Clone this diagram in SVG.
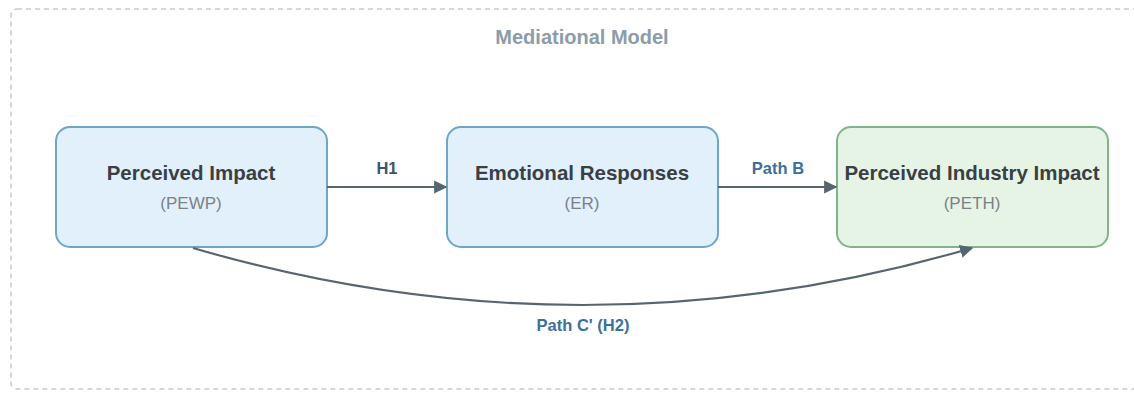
<svg xmlns="http://www.w3.org/2000/svg" width="1134" height="396" viewBox="0 0 1134 396">
<defs>
<style>
.frame{fill:#ffffff;stroke:#c9c9c9;stroke-width:1.5;stroke-dasharray:5 4}
.blue{fill:#e1f0fb;stroke:#6ea6c8;stroke-width:2}
.green{fill:#e6f4e6;stroke:#82b48c;stroke-width:2}
.title{font-family:"Liberation Sans",Arial,sans-serif;font-weight:bold;font-size:20px;fill:#8c9ca8;text-anchor:middle}
.main{font-family:"Liberation Sans",Arial,sans-serif;font-weight:bold;font-size:20.5px;fill:#3a3f44;text-anchor:middle}
.sub{font-family:"Liberation Sans",Arial,sans-serif;font-size:17px;fill:#7b8186;text-anchor:middle}
.lbl{font-family:"Liberation Sans",Arial,sans-serif;font-weight:bold;font-size:16.5px;text-anchor:middle}
.edge{fill:none;stroke:#55666f;stroke-width:2.2}
</style>
<marker id="arr" viewBox="0 0 10 10" refX="9" refY="5" markerWidth="6" markerHeight="6" orient="auto" markerUnits="strokeWidth">
<path d="M0,0 L10,5 L0,10 z" fill="#55666f"/>
</marker>
</defs>
<rect class="frame" x="11" y="9" width="1130" height="380" rx="6"/>
<text class="title" x="582" y="44">Mediational Model</text>
<g id="node-pewp">
<rect class="blue" x="56" y="127" width="271" height="120" rx="14"/>
<text class="main" x="191" y="180">Perceived Impact</text>
<text class="sub" x="191" y="209">(PEWP)</text>
</g>
<g id="node-er">
<rect class="blue" x="447" y="127" width="271" height="120" rx="14"/>
<text class="main" x="582" y="180">Emotional Responses</text>
<text class="sub" x="582" y="209">(ER)</text>
</g>
<g id="node-peth">
<rect class="green" x="837" y="127" width="271" height="120" rx="14"/>
<text class="main" x="972" y="180">Perceived Industry Impact</text>
<text class="sub" x="972" y="209">(PETH)</text>
</g>
<g id="connectors">
<line class="edge" x1="327" y1="187" x2="446" y2="187" marker-end="url(#arr)"/>
<text class="lbl" x="387" y="174" fill="#3d5566">H1</text>
<line class="edge" x1="718" y1="187" x2="836" y2="187" marker-end="url(#arr)"/>
<text class="lbl" x="778" y="174" fill="#3f6f98">Path B</text>
<path class="edge" d="M193,248 Q583,362 972,248" marker-end="url(#arr)"/>
<text class="lbl" x="583" y="331" fill="#3f6f98">Path C' (H2)</text>
</g>
</svg>
